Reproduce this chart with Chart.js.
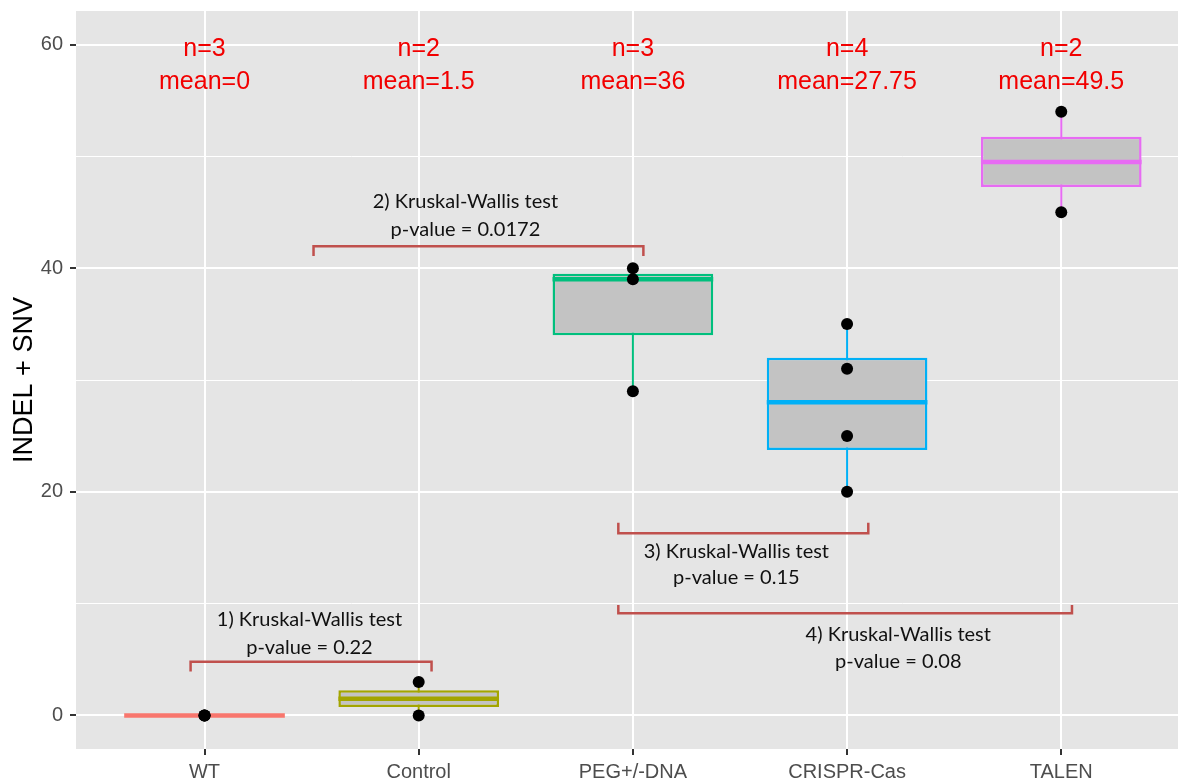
<!DOCTYPE html>
<html>
<head>
<meta charset="utf-8">
<script src="https://cdn.jsdelivr.net/npm/chart.js@4.4.1/dist/chart.umd.min.js"></script>
<style>
  html, body { margin: 0; padding: 0; background: #ffffff; overflow: hidden; }
  #wrap { width: 1178px; height: 782px; overflow: hidden; }
  canvas { display: block; }
</style>
</head>
<body>
<div id="wrap"><canvas id="c" width="1178" height="782"></canvas></div>
<script>
// ---- data ----
const categories = ['WT', 'Control', 'PEG+/-DNA', 'CRISPR-Cas', 'TALEN'];
const wtValues = [0, 0, 0];
const controlValues = [0, 3];
const pegValues = [29, 39, 40];
const crisprValues = [20, 25, 31, 35];
const talenValues = [45, 54];
const groupValues = [wtValues, controlValues, pegValues, crisprValues, talenValues];
const groupColors = ['#F8766D', '#A3A500', '#00BF7D', '#00B0F6', '#E76BF3'];

const yTicks = [0, 10, 20, 30, 40, 50, 60];
const yTickLabels = ['0', '', '20', '', '40', '', '60'];

const summaryNY = 59.6;
const summaryMeanY = 56.6;

const bracketLine1 = ['1) Kruskal-Wallis test', '2) Kruskal-Wallis test', '3) Kruskal-Wallis test', '4) Kruskal-Wallis test'];
const bracketLine2 = ['p-value = 0.22', 'p-value = 0.0172', 'p-value = 0.15', 'p-value = 0.08'];
const bracketX1 = [0.935, 1.509, 2.932, 2.932];
const bracketX2 = [2.06, 3.049, 4.099, 5.05];
const bracketY = [4.81, 41.97, 16.29, 9.14];
const bracketTipY = [3.92, 41.08, 17.23, 9.88];
const bracketTextX = [1.49, 2.218, 3.483, 4.239];
const bracketTextY1 = [8.54, 45.93, 14.62, 7.20];
const bracketTextY2 = [6.06, 43.49, 12.29, 4.81];

// ---- box statistics (ggplot / R type-7 quantiles) ----
function quantile(arr, p) {
  const s = [...arr].sort((a, b) => a - b);
  const h = (s.length - 1) * p;
  const lo = Math.floor(h), hi = Math.ceil(h);
  return s[lo] + (h - lo) * (s[hi] - s[lo]);
}
const stats = groupValues.map(v => {
  const q1 = quantile(v, 0.25), med = quantile(v, 0.5), q3 = quantile(v, 0.75);
  const iqr = q3 - q1;
  const inside = v.filter(x => x >= q1 - 1.5 * iqr && x <= q3 + 1.5 * iqr);
  return {
    q1, med, q3,
    lo: Math.min(...inside), hi: Math.max(...inside),
    n: v.length,
    mean: v.reduce((a, b) => a + b, 0) / v.length
  };
});

const BOX_WIDTH = 0.75;
const FONT = '"Liberation Sans", Arial, Helvetica, sans-serif';

// ---- datasets ----
const datasets = [];

// whiskers (drawn underneath)
stats.forEach((s, i) => {
  datasets.push({
    type: 'line',
    data: [{ x: i + 1, y: s.lo }, { x: i + 1, y: s.hi }],
    borderColor: groupColors[i],
    borderWidth: 2,
    pointRadius: 0,
    showLine: true,
    order: 20
  });
});

// boxes
datasets.push({
  type: 'bar',
  data: stats.map((s, i) => ({ x: i + 1, y: [s.q1, s.q3] })),
  backgroundColor: '#C3C3C3',
  borderColor: groupColors,
  borderWidth: 2.5,
  borderSkipped: false,
  barPercentage: BOX_WIDTH,
  categoryPercentage: 1.0,
  order: 15
});

// medians
datasets.push({
  type: 'line',
  data: stats.map((s, i) => ({ x: i + 1, y: s.med })),
  showLine: false,
  pointStyle: 'line',
  pointRadius: (ctx) => {
    const xs = ctx.chart.scales.x;
    return Math.abs(xs.getPixelForValue(1 + BOX_WIDTH / 2) - xs.getPixelForValue(1));
  },
  pointBorderColor: groupColors,
  pointBorderWidth: 4.5,
  pointHoverRadius: 0,
  order: 10
});

// brackets
bracketX1.forEach((x1, i) => {
  datasets.push({
    type: 'line',
    data: [
      { x: x1, y: bracketTipY[i] },
      { x: x1, y: bracketY[i] },
      { x: bracketX2[i], y: bracketY[i] },
      { x: bracketX2[i], y: bracketTipY[i] }
    ],
    borderColor: '#C0504D',
    borderWidth: 2.5,
    pointRadius: 0,
    showLine: true,
    tension: 0,
    order: 5
  });
});

// raw points
const pts = [];
groupValues.forEach((v, i) => v.forEach(y => pts.push({ x: i + 1, y })));
datasets.push({
  type: 'line',
  data: pts,
  showLine: false,
  pointRadius: 6,
  pointBackgroundColor: '#000000',
  pointBorderWidth: 0,
  pointHoverRadius: 0,
  order: 1
});

// ---- plugins ----
const panelBg = {
  id: 'panelBg',
  beforeDraw(chart) {
    const { ctx, chartArea: a } = chart;
    ctx.save();
    ctx.fillStyle = '#E5E5E5';
    ctx.fillRect(a.left, a.top, a.right - a.left, a.bottom - a.top);
    ctx.restore();
  }
};

const annotations = {
  id: 'annotations',
  afterDatasetsDraw(chart) {
    const { ctx } = chart;
    const xs = chart.scales.x, ys = chart.scales.y;
    ctx.save();
    ctx.textAlign = 'center';
    ctx.textBaseline = 'middle';
    // n / mean labels
    ctx.fillStyle = '#F20000';
    ctx.font = '25px ' + FONT;
    stats.forEach((s, i) => {
      const px = xs.getPixelForValue(i + 1);
      ctx.fillText('n=' + s.n, px, ys.getPixelForValue(summaryNY));
      ctx.fillText('mean=' + s.mean, px, ys.getPixelForValue(summaryMeanY));
    });
    // bracket labels
    ctx.fillStyle = '#111111';
    ctx.font = '20px Lato, "Open Sans", sans-serif';
    bracketTextX.forEach((x, i) => {
      const px = xs.getPixelForValue(x);
      ctx.fillText(bracketLine1[i], px, ys.getPixelForValue(bracketTextY1[i]));
      ctx.fillText(bracketLine2[i], px, ys.getPixelForValue(bracketTextY2[i]));
    });
    ctx.restore();
  }
};

Chart.defaults.font.family = FONT;

new Chart(document.getElementById('c'), {
  type: 'bar',
  data: { datasets },
  plugins: [panelBg, annotations],
  options: {
    responsive: false,
    maintainAspectRatio: false,
    devicePixelRatio: 1,
    animation: false,
    events: [],
    layout: { autoPadding: false, padding: { top: 11, right: 0, bottom: 0, left: 0 } },
    plugins: { legend: { display: false }, tooltip: { enabled: false } },
    scales: {
      x: {
        type: 'linear',
        min: 0.4,
        max: 5.545,
        offset: false,
        afterBuildTicks: (scale) => { scale.ticks = categories.map((c, i) => ({ value: i + 1 })); },
        afterFit: (scale) => {
          scale.height = 33;
          scale.paddingLeft = 0; scale.paddingRight = 0;
          scale.paddingTop = 0; scale.paddingBottom = 0;
        },
        border: { display: false },
        grid: {
          offset: false,
          color: '#FFFFFF',
          lineWidth: 2,
          tickColor: '#333333',
          tickLength: 6,
          tickWidth: 2
        },
        ticks: {
          autoSkip: false,
          maxRotation: 0,
          padding: 5,
          color: '#4D4D4D',
          font: { size: 20, family: FONT },
          callback: (v) => categories[Math.round(v) - 1]
        }
      },
      y: {
        type: 'linear',
        min: -3,
        max: 63,
        afterBuildTicks: (scale) => { scale.ticks = yTicks.map(v => ({ value: v })); },
        afterFit: (scale) => {
          scale.width = 76;
          scale.paddingLeft = 0; scale.paddingRight = 0;
          scale.paddingTop = 0; scale.paddingBottom = 0;
        },
        border: { display: false },
        grid: {
          color: '#FFFFFF',
          lineWidth: (ctx) => (ctx.tick && yTickLabels[yTicks.indexOf(ctx.tick.value)] !== '' ? 2 : 1),
          tickColor: (ctx) => (ctx.tick && yTickLabels[yTicks.indexOf(ctx.tick.value)] !== '' ? '#333333' : 'rgba(0,0,0,0)'),
          tickLength: 6,
          tickWidth: 2
        },
        ticks: {
          autoSkip: false,
          padding: 7,
          color: '#4D4D4D',
          font: { size: 20, family: FONT },
          callback: (v) => yTickLabels[yTicks.indexOf(v)]
        },
        title: {
          display: true,
          text: 'INDEL + SNV',
          color: '#000000',
          font: { size: 27, family: FONT },
          padding: { top: 8, bottom: 0 }
        }
      }
    }
  }
});
</script>
</body>
</html>
